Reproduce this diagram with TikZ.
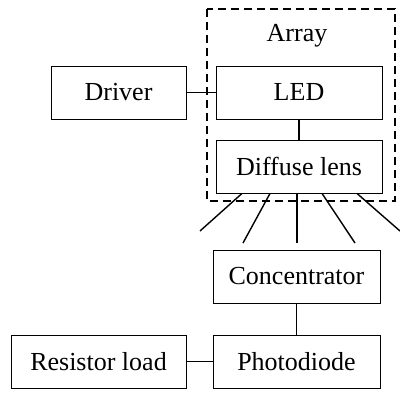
\documentclass[tikz,border=0pt]{standalone}
\usepackage{fontspec}
\setmainfont{Liberation Serif}
\begin{document}
\begin{tikzpicture}[x=1pt,y=-1pt,
  box/.style={draw,line width=0.9pt,inner sep=0pt,minimum height=53pt,font=\fontsize{26}{30}\selectfont},
  link/.style={line width=1.2pt},
  ray/.style={line width=1.4pt},
  grp/.style={draw,dashed,line width=1.8pt,dash pattern=on 8pt off 5pt}]
\useasboundingbox (0,0) rectangle (400,392);
\draw[grp] (207,9) rectangle (395,201);
\node[font=\fontsize{26}{30}\selectfont] (array) at (297,36) {Array};
\node[box,minimum width=135pt] (drv) at (118.5,92.5) {Driver};
\node[box,minimum width=166pt] (led) at (299,92.5) {LED};
\node[box,minimum width=166pt] (dl) at (299,166.5) {Diffuse lens};
\node[box,minimum width=167pt] (con) at (296.5,276.5) {Concentrator};
\node[box,minimum width=167pt] (pd) at (296.5,361.5) {Photodiode};
\node[box,minimum width=175pt] (rl) at (98.5,361.5) {Resistor load};
\draw[link] (drv) -- (led);
\draw[link] (led) -- (dl);
\draw[link] (con.south -| pd.north) -- (pd.north);
\draw[link] (rl) -- (pd);
\coordinate (e1) at (200,231);
\coordinate (e2) at (243,243);
\coordinate (e3) at (297,243);
\coordinate (e4) at (355,243);
\coordinate (e5) at (400,231);
\draw[ray] ([xshift=-57pt]dl.south) -- (e1);
\draw[ray] ([xshift=-29pt]dl.south) -- (e2);
\draw[ray] ([xshift=-2pt]dl.south) -- (e3);
\draw[ray] ([xshift=23pt]dl.south) -- (e4);
\draw[ray] ([xshift=58pt]dl.south) -- (e5);
\end{tikzpicture}
\end{document}
